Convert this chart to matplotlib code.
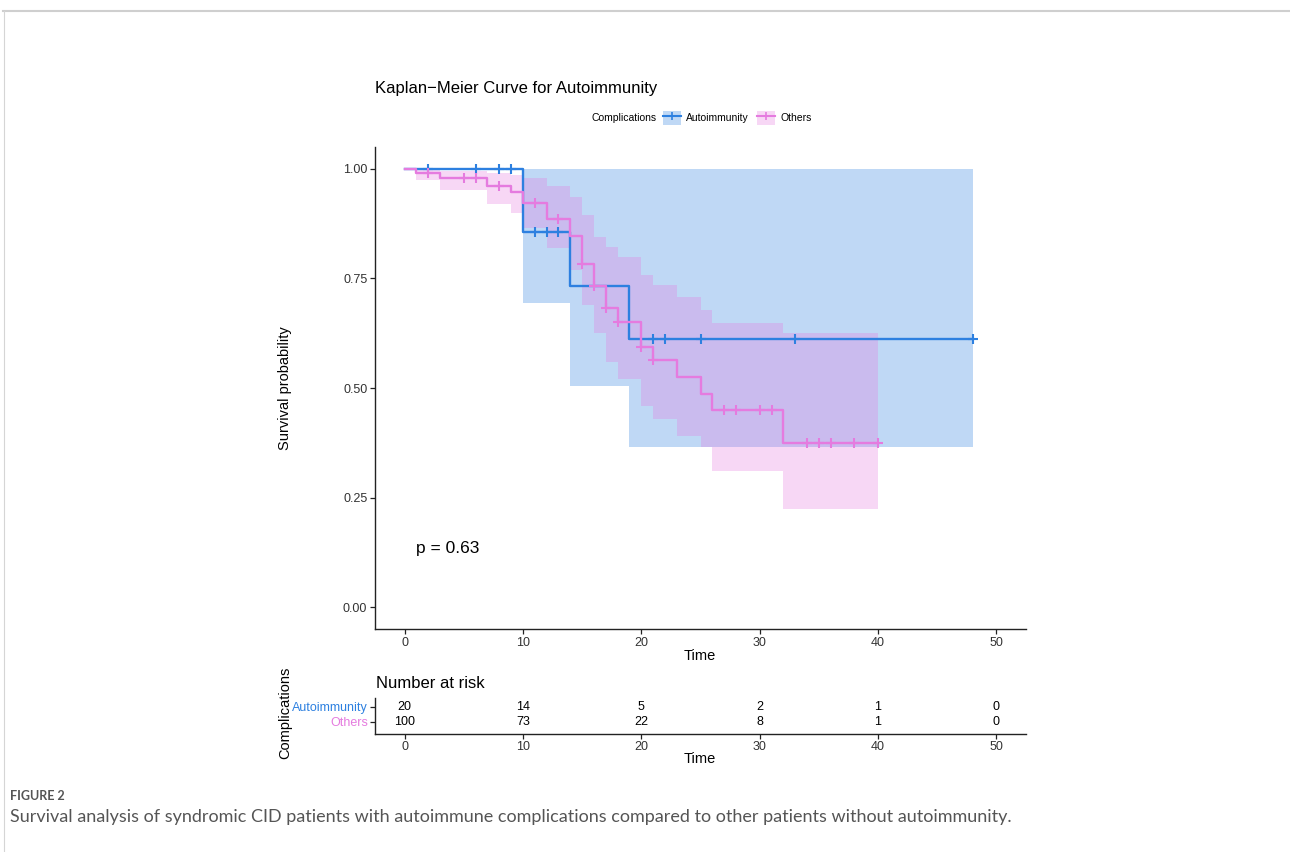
import numpy as np
import matplotlib
matplotlib.use('Agg')
import matplotlib.pyplot as plt
from matplotlib.patches import Patch
from matplotlib.lines import Line2D
from matplotlib.legend_handler import HandlerTuple

plt.rcParams['font.family'] = ['Liberation Sans', 'DejaVu Sans']

# --- data ---
auto_time = [0, 10, 14, 19, 48]
auto_surv = [1.0, 0.857, 0.733, 0.611, 0.611]
auto_upper = [1.0, 1.0, 1.0, 1.0, 1.0]
auto_lower = [1.0, 0.695, 0.505, 0.365, 0.365]
auto_censor = [2, 6, 8, 9, 11, 12, 13, 21, 22, 25, 33, 48]

oth_time = [0, 1, 3, 7, 9, 10, 12, 14, 15, 16, 17, 18, 20, 21, 23, 25, 26, 32, 40]
oth_surv = [1.0, 0.99, 0.979, 0.96, 0.947, 0.922, 0.886, 0.847, 0.783, 0.732,
            0.682, 0.651, 0.594, 0.563, 0.525, 0.487, 0.45, 0.374, 0.374]
oth_upper = [1.0, 1.0, 0.995, 0.99, 0.985, 0.979, 0.96, 0.937, 0.895, 0.845,
             0.822, 0.799, 0.757, 0.735, 0.708, 0.677, 0.648, 0.626, 0.626]
oth_lower = [1.0, 0.975, 0.952, 0.921, 0.899, 0.865, 0.82, 0.77, 0.69, 0.625,
             0.56, 0.52, 0.46, 0.43, 0.39, 0.365, 0.311, 0.224, 0.224]
oth_censor = [2, 5, 6, 8, 11, 13, 15, 16, 17, 18, 20, 21, 27, 28, 30, 31,
              34, 35, 36, 38, 40]

risk_times = [0, 10, 20, 30, 40, 50]
risk_auto = [20, 14, 5, 2, 1, 0]
risk_oth = [100, 73, 22, 8, 1, 0]

groups = ['Autoimmunity', 'Others']
blue = '#2D80E0'
pink = '#E57BDF'

W, H = 1290, 852
fig = plt.figure(figsize=(W / 100, H / 100), dpi=100)


def box(x0, y0, x1, y1):
    # pixel box (top-left origin) -> figure fraction rect
    return [x0 / W, 1 - y1 / H, (x1 - x0) / W, (y1 - y0) / H]


def step_at(times, surv, t):
    i = np.searchsorted(times, t, side='right') - 1
    return np.asarray(surv)[i]


# --- main KM panel ---
ax = fig.add_axes(box(375, 147, 1026, 629))
for t, s, lo, up, c in [(auto_time, auto_surv, auto_lower, auto_upper, blue),
                        (oth_time, oth_surv, oth_lower, oth_upper, pink)]:
    ax.fill_between(t, lo, up, step='post', color=c, alpha=0.3, lw=0)
for t, s, cens, c in [(auto_time, auto_surv, auto_censor, blue),
                      (oth_time, oth_surv, oth_censor, pink)]:
    ax.step(t, s, where='post', color=c, lw=1.7)
    ax.plot(cens, [step_at(t, s, x) for x in cens], ls='none', marker='+',
            ms=7, mew=1.5, color=c)

ax.set_xlim(-2.5, 52.5)
ax.set_ylim(-0.05, 1.05)
ax.set_xticks([0, 10, 20, 30, 40, 50])
ax.set_yticks([0, 0.25, 0.5, 0.75, 1.0])
ax.set_yticklabels(['0.00', '0.25', '0.50', '0.75', '1.00'])
for sp in ['top', 'right']:
    ax.spines[sp].set_visible(False)
for sp in ['left', 'bottom']:
    ax.spines[sp].set_linewidth(1.0)
    ax.spines[sp].set_color('#222222')
ax.tick_params(labelsize=9, length=3.5, width=0.9, colors='#222222',
               labelcolor='#333333', pad=2)
ax.text(1, 0.133, 'p = 0.63', fontsize=12.5, va='center', ha='left', color='black')

fig.text(375 / W, 1 - 88 / H, 'Kaplan\u2212Meier Curve for Autoimmunity', fontsize=12,
         va='center', ha='left')
fig.text(285 / W, 1 - 388 / H, 'Survival probability', rotation=90, fontsize=10.5,
         va='center', ha='center')
fig.text(700 / W, 1 - 656 / H, 'Time', fontsize=10.5, va='center', ha='center')

# legend
fig.text(592 / W, 1 - 118 / H, 'Complications', fontsize=7.5, va='center', ha='left')
handles = []
for c in [blue, pink]:
    handles.append((Patch(facecolor=c, alpha=0.3, lw=0),
                    Line2D([], [], color=c, lw=1.5, marker='+', ms=6, mew=1.2)))
fig.legend(handles, groups, handler_map={tuple: HandlerTuple(ndivide=1)},
           loc='center left', bbox_to_anchor=(658 / W, 1 - 118 / H), ncol=2,
           frameon=False, fontsize=7.5, handlelength=1.7, handleheight=1.6,
           handletextpad=0.5, columnspacing=0.8, borderpad=0)

# --- risk table ---
ax2 = fig.add_axes(box(375, 698, 1026, 734))
ax2.set_xlim(-2.5, 52.5)
ax2.set_ylim(0.2, 2.6)
for t, a, o in zip(risk_times, risk_auto, risk_oth):
    ax2.text(t, 2, str(a), ha='center', va='center', fontsize=9)
    ax2.text(t, 1, str(o), ha='center', va='center', fontsize=9)
ax2.set_xticks([0, 10, 20, 30, 40, 50])
ax2.set_yticks([2, 1])
ax2.set_yticklabels(groups)
for sp in ['top', 'right']:
    ax2.spines[sp].set_visible(False)
for sp in ['left', 'bottom']:
    ax2.spines[sp].set_linewidth(1.0)
    ax2.spines[sp].set_color('#222222')
ax2.tick_params(labelsize=9, length=3.5, width=0.9, colors='#222222', pad=1.5)
ax2.tick_params(axis='x', labelcolor='#333333')
for lab, c in zip(ax2.get_yticklabels(), [blue, pink]):
    lab.set_color(c)

fig.text(376 / W, 1 - 683 / H, 'Number at risk', fontsize=12, va='center', ha='left')
fig.text(285 / W, 1 - 713 / H, 'Complications', rotation=90, fontsize=10.5,
         va='center', ha='center')
fig.text(700 / W, 1 - 759 / H, 'Time', fontsize=10.5, va='center', ha='center')

# --- page frame and caption ---
fig.add_artist(Line2D([3 / W, 1], [1 - 11 / H, 1 - 11 / H], color='#cfcfcf', lw=1.5))
fig.add_artist(Line2D([3.5 / W, 3.5 / W], [0, 1 - 11 / H], color='#d5d5d5', lw=0.8))
fig.text(10 / W, 1 - 796 / H, 'FIGURE 2', fontsize=9, color='#555555',
         family=['Lato', 'DejaVu Sans'], weight='bold', va='center', ha='left')
fig.text(10 / W, 1 - 817 / H,
         'Survival analysis of syndromic CID patients with autoimmune complications '
         'compared to other patients without autoimmunity.',
         fontsize=13, color='#555555', family=['Lato', 'DejaVu Sans'],
         va='center', ha='left')

fig.savefig('out.png', dpi=100)
